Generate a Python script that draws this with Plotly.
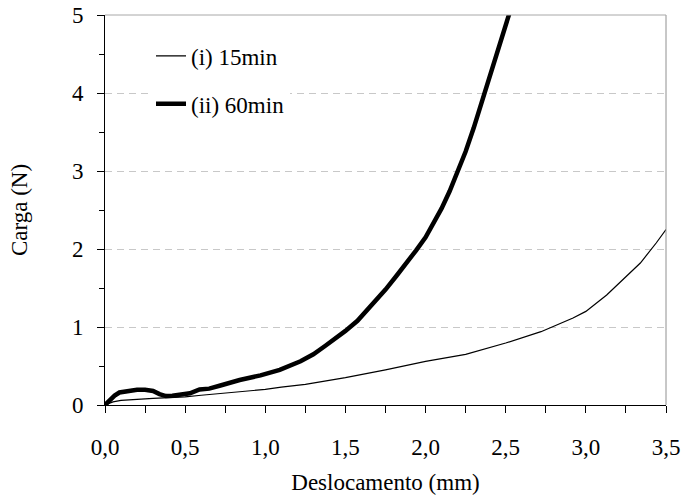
import plotly.graph_objects as go

# Series (i) 15min
thin_x = [0.0, 0.05, 0.1, 0.2, 0.3, 0.4, 0.5, 0.6, 0.75, 0.9, 1.0, 1.1, 1.25, 1.5, 1.75,
          2.0, 2.25, 2.5, 2.72, 2.92, 3.0, 3.13, 3.235, 3.34, 3.44, 3.5]
thin_y = [0.0, 0.04, 0.06, 0.075, 0.085, 0.095, 0.105, 0.125, 0.155, 0.185, 0.2, 0.23, 0.265,
          0.35, 0.45, 0.56, 0.65, 0.795, 0.94, 1.115, 1.2, 1.41, 1.61, 1.82, 2.08, 2.25]

# Series (ii) 60min
thick_x = [0.0, 0.03, 0.06, 0.09, 0.12, 0.16, 0.2, 0.25, 0.3, 0.34, 0.38, 0.42, 0.47, 0.53,
           0.59, 0.65, 0.72, 0.84, 0.97, 1.09, 1.22, 1.3, 1.375, 1.45, 1.5, 1.575, 1.625,
           1.7, 1.75, 1.82, 1.875, 1.94, 2.0, 2.05, 2.1, 2.15, 2.2, 2.25, 2.3, 2.35, 2.4,
           2.45, 2.5, 2.55]
thick_y = [0.0, 0.07, 0.12, 0.16, 0.17, 0.18, 0.195, 0.195, 0.18, 0.14, 0.115, 0.12, 0.13,
           0.15, 0.2, 0.21, 0.25, 0.32, 0.38, 0.45, 0.56, 0.65, 0.76, 0.87, 0.95, 1.08, 1.19,
           1.36, 1.48, 1.66, 1.8, 1.98, 2.15, 2.33, 2.52, 2.74, 2.98, 3.25, 3.55, 3.87, 4.2,
           4.52, 4.85, 5.2]

series_names = ["(i) 15min", "(ii) 60min"]
x_ticks = [0.0, 0.5, 1.0, 1.5, 2.0, 2.5, 3.0, 3.5]
y_ticks = [0, 1, 2, 3, 4, 5]

FONT = "Liberation Serif"
FS = 23

fig = go.Figure()
fig.add_trace(go.Scatter(x=thin_x, y=thin_y, mode="lines", name=series_names[0],
                         legendgroup="a", line=dict(color="black", width=1.2)))
fig.add_trace(go.Scatter(x=thick_x, y=thick_y, mode="lines", name=series_names[1],
                         legendgroup="b", line=dict(color="black", width=4.5)))

fig.update_layout(
    width=683, height=495,
    margin=dict(l=105, r=17, t=15, b=90),
    paper_bgcolor="white", plot_bgcolor="white",
    separators=",.",
    font=dict(family=FONT, size=FS, color="black"),
    legend=dict(x=0.082, y=0.95, xanchor="left", yanchor="top",
                bgcolor="white", borderwidth=0, tracegroupgap=15,
                font=dict(family=FONT, size=FS, color="black")),
    xaxis=dict(range=[0, 3.5], tickvals=x_ticks, tickformat=".1f",
               showgrid=False, zeroline=False, automargin=False,
               showline=True, linecolor="black", linewidth=1,
               ticks="outside", ticklen=7, tickcolor="black",
               minor=dict(dtick=0.25, ticks="outside", ticklen=7, tickcolor="black"),
               title=dict(text="Deslocamento (mm)", standoff=15,
                          font=dict(family=FONT, size=FS, color="black")),
               tickfont=dict(family=FONT, size=FS, color="black"),
               ticklabelstandoff=14, ticklabeloverflow="allow"),
    yaxis=dict(range=[0, 5], tickvals=y_ticks,
               showgrid=True, gridcolor="#c8c8c8", griddash="7px,5px", gridwidth=1,
               zeroline=False, automargin=False,
               showline=True, linecolor="black", linewidth=1,
               ticks="outside", ticklen=7, tickcolor="black",
               minor=dict(dtick=0.5, ticks="outside", ticklen=5, tickcolor="black"),
               title=dict(text="Carga (N)", standoff=37,
                          font=dict(family=FONT, size=FS, color="black")),
               tickfont=dict(family=FONT, size=FS, color="black"),
               ticklabelstandoff=9, ticklabeloverflow="allow"),
)
# legend box background (hides the gridline behind the legend area)
fig.add_shape(type="rect", xref="paper", yref="paper", x0=0.08, x1=0.579,
              y0=0.77, y1=0.83, layer="between",
              line=dict(width=0), fillcolor="white")
# plot frame (top / right) in gray
fig.add_shape(type="line", xref="paper", yref="paper", x0=1, x1=1, y0=0, y1=1,
              line=dict(color="#909090", width=1))
fig.add_shape(type="line", xref="paper", yref="paper", x0=0, x1=1, y0=1, y1=1,
              line=dict(color="#a8a8a8", width=1))

fig.write_html("out.html", config={"displayModeBar": False},
               post_script="document.body.style.margin='0';document.body.style.overflow='hidden';")
